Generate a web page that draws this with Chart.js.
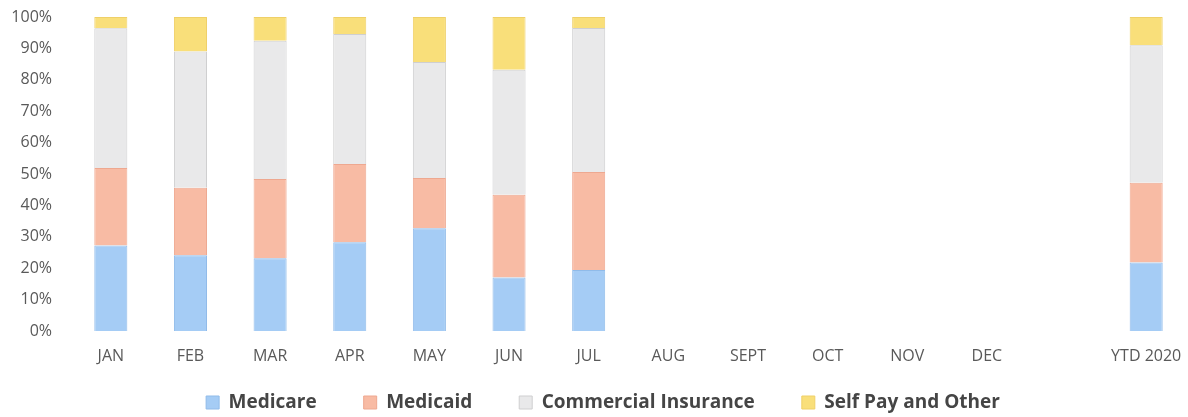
<!DOCTYPE html>
<html>
<head>
<meta charset="utf-8">
<script src="https://cdn.jsdelivr.net/npm/chart.js@4"></script>
<style>
  html, body { margin: 0; padding: 0; background: #ffffff; }
  #wrap { width: 1188px; height: 417px; position: relative; }
</style>
</head>
<body>
<div id="wrap"><canvas id="c" width="1188" height="417"></canvas></div>
<script>
const categories = ["JAN", "FEB", "MAR", "APR", "MAY", "JUN", "JUL", "AUG", "SEPT", "OCT", "NOV", "DEC", "", "YTD 2020"];
const medicare   = [27.2, 24.1, 23.2, 28.3, 32.7, 17.0, 19.4, null, null, null, null, null, null, 21.8];
const medicaid   = [24.7, 21.5, 25.2, 24.9, 16.0, 26.4, 31.2, null, null, null, null, null, null, 25.4];
const commercial = [44.5, 43.4, 44.0, 41.4, 37.0, 39.8, 45.9, null, null, null, null, null, null, 43.8];
const selfPay    = [3.6, 11.0, 7.6, 5.4, 14.3, 16.8, 3.5, null, null, null, null, null, null, 9.0];
const yTicks = [0, 10, 20, 30, 40, 50, 60, 70, 80, 90, 100];

const FONT = "'Open Sans', 'Liberation Sans', sans-serif";

const mk = (label, data, bg, bd) => ({
  label, data, backgroundColor: bg, borderColor: bd, borderWidth: 1,
  barPercentage: 0.415, categoryPercentage: 1.0, stack: 's'
});

const legendPlace = {
  id: 'legendPlace',
  afterInit(chart) {
    const lg = chart.legend;
    if (!lg) return;
    const orig = lg.fit;
    lg.fit = function () { orig.call(this); this.height = 38; };
  },
  afterLayout(chart) {
    const lg = chart.legend;
    if (!lg) return;
    lg.top = 346; lg.bottom = 417;
    lg.left += 10; lg.right += 10;
  }
};

new Chart(document.getElementById('c'), {
  type: 'bar',
  data: {
    labels: categories,
    datasets: [
      mk('Medicare', medicare, '#A5CCF5', '#90BBE9'),
      mk('Medicaid', medicaid, '#F8BBA4', '#EEA890'),
      mk('Commercial Insurance', commercial, '#E9E9EA', '#CFCFD0'),
      mk('Self Pay and Other', selfPay, '#F9DF7A', '#EFD068')
    ]
  },
  plugins: [legendPlace],
  options: {
    responsive: false,
    animation: false,
    devicePixelRatio: 1,
    layout: { padding: { top: 17, right: 2, left: 0, bottom: 0 } },
    plugins: {
      tooltip: { enabled: false },
      legend: {
        position: 'bottom',
        labels: {
          boxWidth: 13, boxHeight: 13, padding: 47,
          color: '#454545',
          font: { family: FONT, size: 19, weight: 'bold' }
        }
      }
    },
    scales: {
      x: {
        stacked: true,
        grid: { display: false, drawTicks: false },
        border: { display: false },
        ticks: { color: '#595959', padding: 16, font: { family: FONT, size: 16 }, autoSkip: false, maxRotation: 0 },
        afterFit: s => { s.height = 48; s.paddingLeft = 0; s.paddingRight = 0; }
      },
      y: {
        stacked: true,
        min: 0, max: 100,
        grid: { display: false, drawTicks: false },
        border: { display: false },
        afterBuildTicks: s => { s.ticks = yTicks.map(v => ({ value: v })); },
        ticks: {
          color: '#595959', padding: 19,
          font: { family: FONT, size: 16 },
          callback: v => v + '%'
        },
        afterFit: s => { s.width = 71; s.paddingTop = 0; s.paddingBottom = 0; }
      }
    }
  }
});
</script>
</body>
</html>
